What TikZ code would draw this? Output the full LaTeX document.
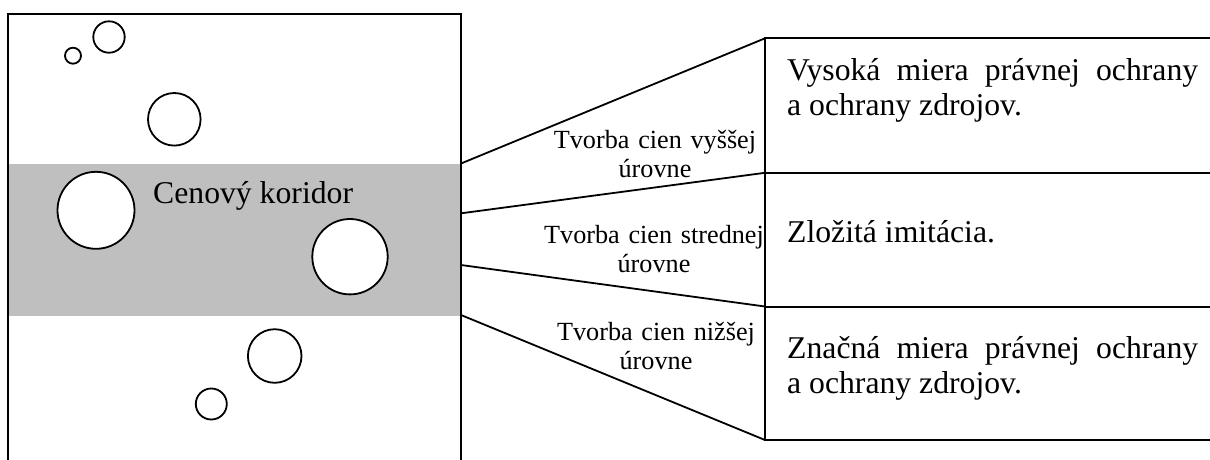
\documentclass[tikz,border=0pt]{standalone}
\usepackage{fontspec}
\setmainfont{Liberation Serif}
\definecolor{corridor}{RGB}{191,191,191}
\begin{document}
\begin{tikzpicture}[x=1pt,y=-1pt,
  frame/.style={line width=2pt, line cap=rect},
  ring/.style={draw, line width=1.8pt, fill=white, circle, inner sep=0pt},
  link/.style={line width=1.8pt},
  bigtext/.style={inner sep=0pt, font=\fontsize{31.7}{35}\selectfont},
  smalltext/.style={inner sep=0pt, text width=240pt, align=center, anchor=base,
    font=\fontsize{26.2}{29}\selectfont},
  boxtext/.style={bigtext, anchor=base west, text width=411pt, align=justify}]
  \useasboundingbox (0,0) rectangle (1210,459);

  % price corridor band
  \fill[corridor] (8,164) rectangle (461,315.7);

  % left frame (open at the bottom)
  \draw[frame] (8,470) -- (8,13.5) -- (461,13.5) -- (461,470);

  % circles
  \node[ring, minimum size=16pt] (c1) at (73,55.7) {};
  \node[ring, minimum size=31.4pt] (c2) at (109,37) {};
  \node[ring, minimum size=52.6pt] (c3) at (174.3,119.3) {};
  \node[ring, minimum size=77pt] (c4) at (96,210.3) {};
  \node[ring, minimum size=75.4pt] (c5) at (350,256.7) {};
  \node[ring, minimum size=53.6pt] (c6) at (274.7,356) {};
  \node[ring, minimum size=31pt] (c7) at (211.3,404) {};

  \node[bigtext, anchor=base west] (corr) at (153,203) {Cenový koridor};

  % attachment points on the frame and on the table
  \coordinate (l1) at (461,163.5);
  \coordinate (l2) at (461,213.3);
  \coordinate (l3) at (461,265);
  \coordinate (l4) at (461,315);
  \coordinate (r1) at (765,38.3);
  \coordinate (r2) at (765,172.8);
  \coordinate (r3) at (765,306.5);
  \coordinate (r4) at (765,440);
  \coordinate (e1) at (1215,38.3);
  \coordinate (e2) at (1215,172.8);
  \coordinate (e3) at (1215,306.5);
  \coordinate (e4) at (1215,440);

  % table on the right
  \draw[frame] (r1) -- (r4);
  \draw[frame] (r1) -- (e1);
  \draw[frame] (r2) -- (e2);
  \draw[frame] (r3) -- (e3);
  \draw[frame] (r4) -- (e4);

  % fan connectors
  \draw[link] (l1) -- (r1);
  \draw[link] (l2) -- (r2);
  \draw[link] (l3) -- (r3);
  \draw[link] (l4) -- (r4);

  % level labels (base anchor sits on the first line)
  \node[smalltext] (t1) at (655,148) {Tvorba cien vyššej\\úrovne};
  \node[smalltext] (t2) at (654,243) {Tvorba cien strednej\\úrovne};
  \node[smalltext] (t3) at (656,340) {Tvorba cien nižšej\\úrovne};

  % table texts
  \node[boxtext] (b1) at (787,80) {Vysoká miera právnej ochrany a~ochrany zdrojov.};
  \node[boxtext] (b2) at (787,242) {Zložitá imitácia.};
  \node[boxtext] (b3) at (787,358) {Značná miera právnej ochrany a~ochrany zdrojov.};
\end{tikzpicture}
\end{document}
